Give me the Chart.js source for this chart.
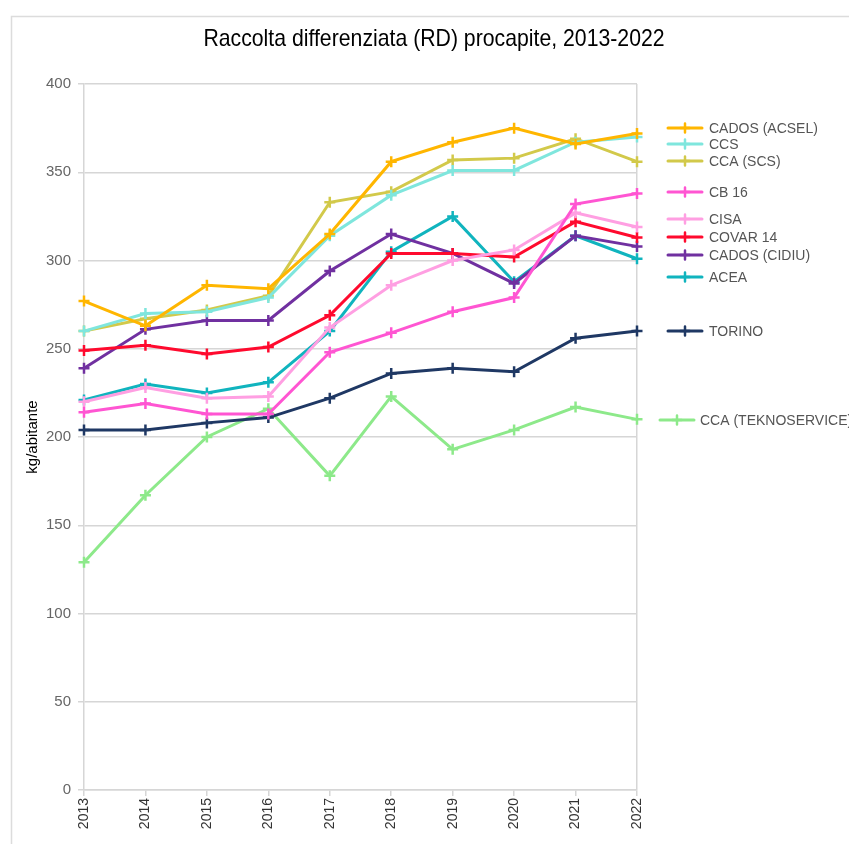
<!DOCTYPE html>
<html>
<head>
<meta charset="utf-8">
<title>Raccolta differenziata (RD) procapite</title>
<script src="https://cdn.jsdelivr.net/npm/chart.js@4/dist/chart.umd.min.js"></script>
<style>
  html, body { margin: 0; padding: 0; background: #fff; }
  canvas { display: block; }
</style>
</head>
<body>
<canvas id="rdChart" width="849" height="844"></canvas>
<script>
// kg per abitante, 2013-2022
const years = ['2013', '2014', '2015', '2016', '2017', '2018', '2019', '2020', '2021', '2022'];
const yTicks = [0, 50, 100, 150, 200, 250, 300, 350, 400];

const cadosAcsel = [277, 263, 286, 284, 315, 356, 367, 375, 366, 372];
const ccs        = [260, 270, 271, 279, 314, 337, 351, 351, 367, 370];
const ccaScs     = [260, 267, 272, 280, 333, 339, 357, 358, 369, 356];
const cb16       = [214, 219, 213, 213, 248, 259, 271, 279, 332, 338];
const cisa       = [220, 228, 222, 223, 262, 286, 300, 306, 327, 319];
const covar14    = [249, 252, 247, 251, 269, 304, 304, 302, 322, 313];
const cadosCidiu = [239, 261, 266, 266, 294, 315, 304, 287, 314, 308];
const acea       = [221, 230, 225, 231, 260, 305, 325, 288, 314, 301];
const torino     = [204, 204, 208, 211, 222, 236, 239, 237, 256, 260];
const ccaTekno   = [129, 167, 200, 216, 178, 223, 193, 204, 217, 210];

const seriesNames = ['CADOS (ACSEL)', 'CCS', 'CCA (SCS)', 'CB 16', 'CISA', 'COVAR 14',
  'CADOS (CIDIU)', 'ACEA', 'TORINO', 'CCA (TEKNOSERVICE)'];
const seriesData = [cadosAcsel, ccs, ccaScs, cb16, cisa, covar14, cadosCidiu, acea, torino, ccaTekno];
const seriesColors = ['#FFB600', '#7FE6DD', '#D2C94A', '#FF55D2', '#FF9FE2', '#FF0A2E',
  '#7030A0', '#10B4BE', '#1F3864', '#8DE98A'];

// legend rows sit next to the line ends, nudged apart so they don't collide
const legendRows = [
  { at: 375.3, lineX: 668, textX: 709 },
  { at: 365.9, lineX: 668, textX: 709 },
  { at: 356.4, lineX: 668, textX: 709 },
  { at: 338.6, lineX: 668, textX: 709 },
  { at: 323.5, lineX: 668, textX: 709 },
  { at: 313.5, lineX: 668, textX: 709 },
  { at: 303.1, lineX: 668, textX: 709 },
  { at: 290.8, lineX: 668, textX: 709 },
  { at: 260.0, lineX: 668, textX: 709 },
  { at: 209.6, lineX: 660, textX: 700 }
];

const GRID = '#d6d6d6';

function drawCross(ctx, x, y, r, color, width) {
  ctx.save();
  ctx.strokeStyle = color;
  ctx.lineWidth = width;
  ctx.beginPath();
  ctx.moveTo(x - r, y); ctx.lineTo(x + r, y);
  ctx.moveTo(x, y - r); ctx.lineTo(x, y + r);
  ctx.stroke();
  ctx.restore();
}

const frameAndTitle = {
  id: 'frameAndTitle',
  beforeDraw(chart) {
    const ctx = chart.ctx;
    ctx.save();
    ctx.fillStyle = '#fff';
    ctx.fillRect(0, 0, chart.width, chart.height);
    ctx.strokeStyle = '#dcdcdc';
    ctx.lineWidth = 1.5;
    ctx.strokeRect(11.5, 16.5, chart.width + 20, chart.height + 20);
    // condensed title
    ctx.fillStyle = '#000';
    ctx.font = "24px 'Liberation Sans', Arial, sans-serif";
    ctx.textAlign = 'center';
    ctx.textBaseline = 'middle';
    ctx.translate(434, 39);
    ctx.scale(0.885, 1);
    ctx.fillText('Raccolta differenziata (RD) procapite, 2013-2022', 0, 0);
    ctx.restore();
  }
};

const sideLegend = {
  id: 'sideLegend',
  afterDraw(chart) {
    const ctx = chart.ctx;
    const yScale = chart.scales.y;
    ctx.save();
    ctx.font = "14px 'Liberation Sans', Arial, sans-serif";
    ctx.fillStyle = '#555';
    ctx.textBaseline = 'middle';
    ctx.textAlign = 'left';
    chart.data.datasets.forEach((ds, i) => {
      const row = legendRows[i];
      const y = Math.round(yScale.getPixelForValue(row.at));
      ctx.strokeStyle = ds.borderColor;
      ctx.lineWidth = 3;
      ctx.lineCap = 'round';
      ctx.beginPath();
      ctx.moveTo(row.lineX, y);
      ctx.lineTo(row.lineX + 34, y);
      ctx.stroke();
      drawCross(ctx, row.lineX + 17, y, 4.5, ds.borderColor, 2.5);
      ctx.fillText(ds.label, row.textX, y + 1);
    });
    ctx.restore();
  }
};

new Chart(document.getElementById('rdChart'), {
  type: 'line',
  data: {
    labels: years,
    datasets: seriesNames.map((name, i) => ({
      label: name,
      data: seriesData[i],
      borderColor: seriesColors[i],
      backgroundColor: seriesColors[i],
      borderWidth: 3,
      pointStyle: 'cross',
      pointRadius: 5.5,
      pointBorderWidth: 2.5,
      tension: 0,
      fill: false
    }))
  },
  options: {
    responsive: false,
    animation: false,
    layout: { padding: { top: 84, right: 212, left: 0, bottom: 0 } },
    plugins: {
      legend: { display: false },
      title: { display: false },
      tooltip: { enabled: false }
    },
    scales: {
      x: {
        offset: false,
        afterFit: (scale) => { scale.height = 54; },
        grid: {
          color: (c) => (c.index === years.length - 1 ? GRID : 'rgba(0,0,0,0)'),
          tickColor: GRID,
          tickLength: 6,
          lineWidth: 1.5
        },
        border: { color: GRID, width: 1.5 },
        ticks: {
          minRotation: 90,
          maxRotation: 90,
          padding: 2,
          color: '#333',
          font: { family: "'Liberation Sans', Arial, sans-serif", size: 14 }
        }
      },
      y: {
        min: 0,
        max: 400,
        afterFit: (scale) => { scale.width = 84; },
        afterBuildTicks: (scale) => { scale.ticks = yTicks.map(v => ({ value: v })); },
        grid: { color: GRID, tickColor: GRID, tickLength: 6, lineWidth: 1.5 },
        border: { color: GRID, width: 1.5 },
        ticks: {
          padding: 7,
          color: '#666',
          font: { family: "'Liberation Sans', Arial, sans-serif", size: 15 }
        },
        title: {
          display: true,
          text: 'kg/abitante',
          color: '#000',
          padding: { top: 24, bottom: 0 },
          font: { family: "'Liberation Sans', Arial, sans-serif", size: 15 }
        }
      }
    }
  },
  plugins: [frameAndTitle, sideLegend]
});
</script>
</body>
</html>
